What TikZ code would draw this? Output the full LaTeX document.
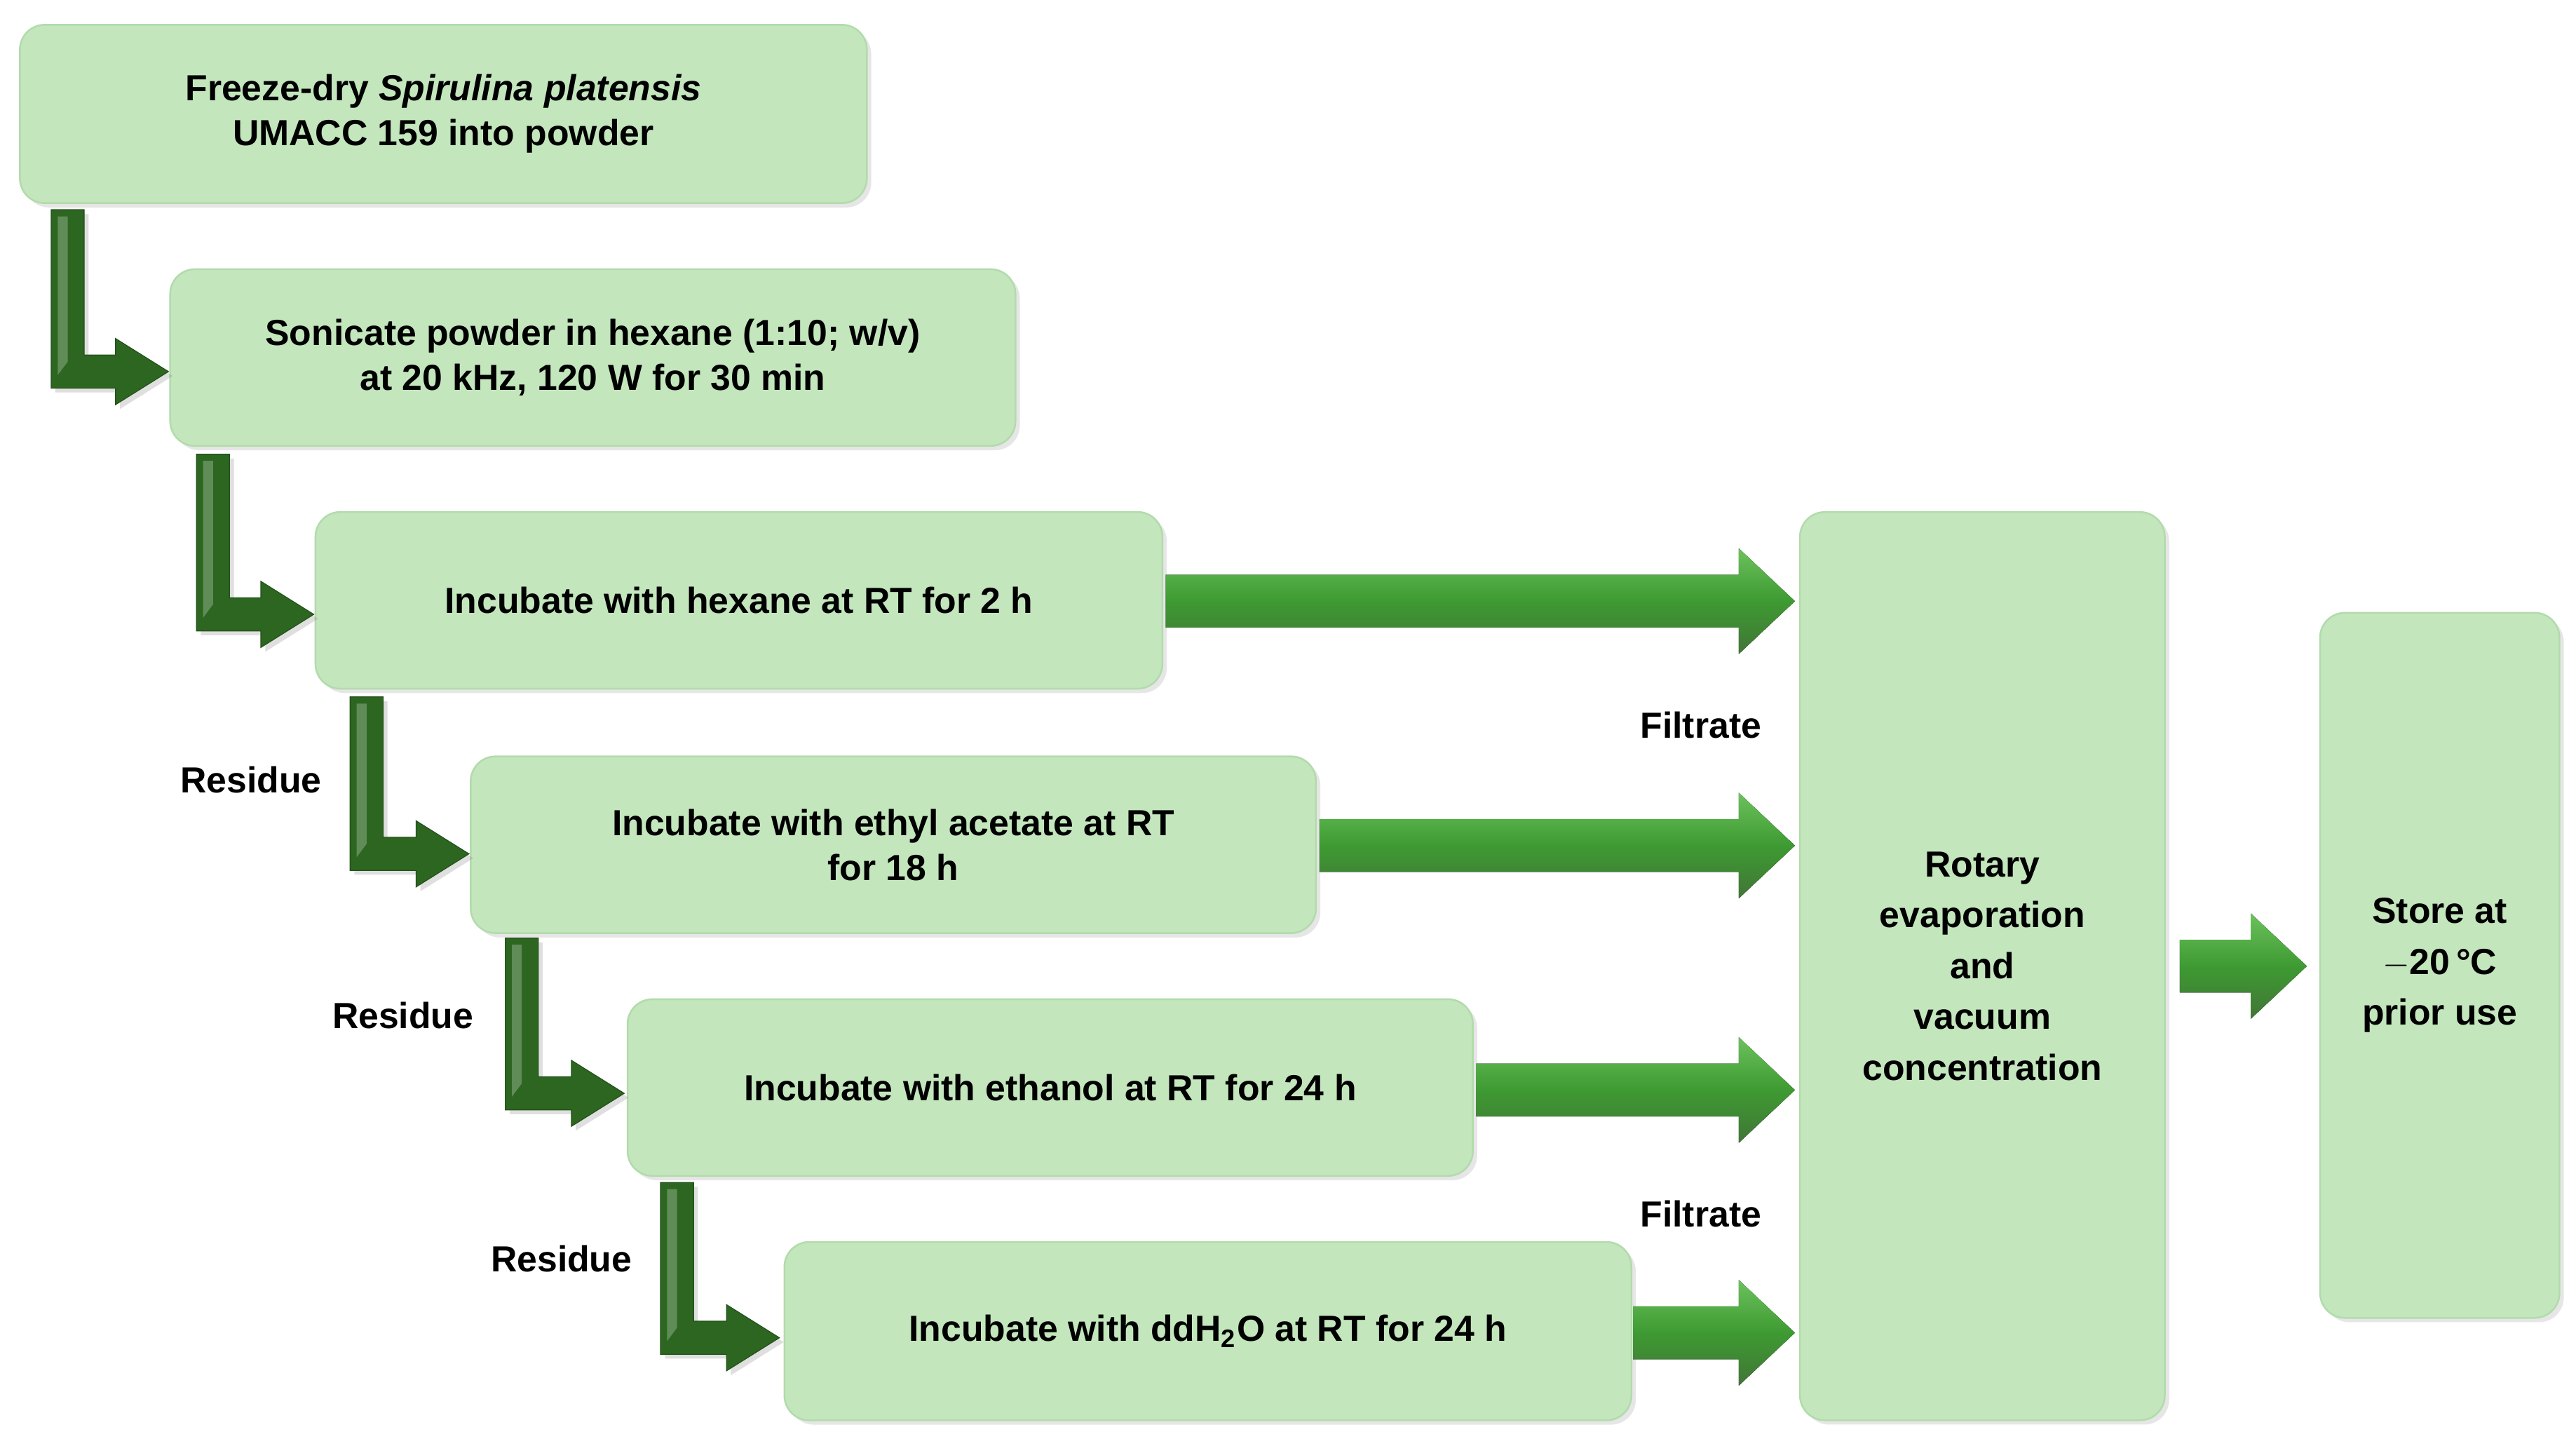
\documentclass[tikz,border=0pt]{standalone}
\usepackage{fontspec}
\setmainfont{Liberation Sans}
\usetikzlibrary{shadows}
\definecolor{boxg}{HTML}{C3E6BD}
\definecolor{boxe}{HTML}{B2DBAB}
\definecolor{darkg}{HTML}{2C6620}
\definecolor{midg}{HTML}{3E9A32}
\definecolor{lightg}{HTML}{6CC25C}
\tikzset{
 box/.style={rounded corners=0.3cm,fill=boxg,draw=boxe,line width=0.6pt,
   drop shadow={opacity=0.2,shadow xshift=1.5pt,shadow yshift=-1.5pt},
   align=center,font=\fontsize{12.5}{15.5}\selectfont\bfseries,inner sep=0pt},
 lab/.style={font=\fontsize{12.5}{15}\selectfont\bfseries},
 larr/.style={fill=darkg,draw=darkg!80!black,line width=0.3pt,
   drop shadow={opacity=0.25,shadow xshift=1.5pt,shadow yshift=-1.5pt}},
 farr/.style={top color=lightg,bottom color=darkg!90,middle color=midg,draw=none}
}
\newcommand\Larr[4]{% a, top, centre y, tip
 \pgfmathsetmacro\ra{#1+20}\pgfmathsetmacro\hx{#4-32}
 \fill[larr] (#1,#2)--(\ra,#2)--(\ra,#3-10)--(\hx,#3-10)--(\hx,#3-20)--(#4,#3)--(\hx,#3+20)--(\hx,#3+10)--(#1,#3+10)--cycle;
 \fill[white,opacity=0.25] (#1+4,#2+4)--(#1+10,#2+4)--(#1+10,#3-6)--(#1+4,#3+2)--cycle;}
\newcommand\Farr[3]{% x1, tip, centre y
 \pgfmathsetmacro\hx{#2-34}
 \fill[farr] (#1,#3-16)--(\hx,#3-16)--(\hx,#3-32)--(#2,#3)--(\hx,#3+32)--(\hx,#3+16)--(#1,#3+16)--cycle;}
\begin{document}
\begin{tikzpicture}[x=0.02cm,y=-0.02cm]
\useasboundingbox (0,0) rectangle (1560,875.5);
\node[box,minimum width=10.26cm,minimum height=2.16cm] (b1) at (268.5,69) {Freeze-dry \textit{Spirulina platensis}\\UMACC 159 into powder};
\node[box,minimum width=10.24cm,minimum height=2.14cm] (b2) at (359,216.5) {Sonicate powder in hexane (1:10; w/v)\\at 20 kHz, 120 W for 30 min};
\node[box,minimum width=10.26cm,minimum height=2.14cm] (b3) at (447.5,363.5) {Incubate with hexane at RT for 2 h};
\node[box,minimum width=10.24cm,minimum height=2.14cm] (b4) at (541,511.5) {Incubate with ethyl acetate at RT\\for 18 h};
\node[box,minimum width=10.24cm,minimum height=2.14cm] (b5) at (636,658.5) {Incubate with ethanol at RT for 24 h};
\node[box,minimum width=10.26cm,minimum height=2.16cm] (b6) at (731.5,806) {Incubate with ddH\textsubscript{2}O at RT for 24 h};
\node[box,minimum width=4.42cm,minimum height=11cm] (rot) at (1200.5,585) {Rotary\\[2pt]evaporation\\[2pt]and\\[2pt]vacuum\\[2pt]concentration};
\node[box,minimum width=2.9cm,minimum height=8.54cm] (st) at (1477.5,584.5) {Store at\\[2pt]$-$20\,°C\\[2pt]prior use};
\Larr{31}{127}{225}{102}
\Larr{119}{275}{372}{190}
\Larr{212}{422}{517}{284}
\Larr{306}{568}{662}{378}
\Larr{400}{716}{810}{472}
\Farr{706}{1087}{364}
\Farr{799}{1087}{512}
\Farr{894}{1087}{660}
\Farr{989}{1087}{807}
\Farr{1320}{1397}{585}
\node[lab] (f1) at (1030,439) {Filtrate};
\node[lab] (f2) at (1030,735) {Filtrate};
\node[lab] (r1) at (152,472) {Residue};
\node[lab] (r2) at (244,615) {Residue};
\node[lab] (r3) at (340,762) {Residue};
\end{tikzpicture}
\end{document}
